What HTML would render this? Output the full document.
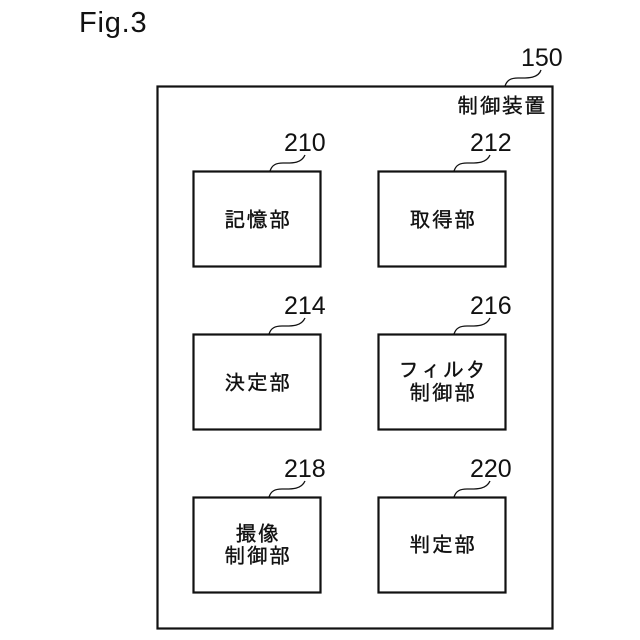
<!DOCTYPE html>
<html><head><meta charset="utf-8"><style>
html,body{margin:0;padding:0;background:#fff}
svg{display:block}
text{fill:#111;font-family:"IPAGothic","Noto Sans CJK JP",sans-serif}
.n{font-size:25px;letter-spacing:0;font-family:"Liberation Sans",sans-serif}
.j{font-size:21px;letter-spacing:1.4px;text-anchor:middle;stroke:#111;stroke-width:.35px}
rect{fill:none;stroke:#111;stroke-width:2.2}
path{fill:none;stroke:#111;stroke-width:1.3}
</style></head><body>
<svg width="640" height="640" viewBox="0 0 640 640" xmlns="http://www.w3.org/2000/svg">
<rect x="0" y="0" width="640" height="640" style="fill:#fff;stroke:none"/>
<text x="79" y="32" style="font-family:'Liberation Sans',sans-serif;font-size:29px;letter-spacing:.8px">Fig.3</text>
<rect x="157.5" y="86.5" width="395" height="542"/>
<text class="n" x="521" y="66">150</text>
<path d="M505 86C507 80 511 78 518 78C526 78 538 79 541 70"/>
<text class="j" x="502" y="113">制御装置</text>

<rect x="193.5" y="171.5" width="127" height="95"/>
<rect x="378.5" y="171.5" width="127" height="95"/>
<rect x="193.5" y="334.5" width="127" height="95"/>
<rect x="378.5" y="334.5" width="127" height="95"/>
<rect x="193.5" y="497.5" width="127" height="95"/>
<rect x="378.5" y="497.5" width="127" height="95"/>

<text class="n" x="284" y="151">210</text>
<path d="M270 171C272 165 276 163 283 163C291 163 301 164 305 155"/>
<text class="n" x="470" y="151">212</text>
<path d="M454 171C456 165 460 163 467 163C475 163 486 164 490 155"/>
<text class="n" x="284" y="314">214</text>
<path d="M269 334C271 328 275 326 282 326C290 326 301 327 305 318"/>
<text class="n" x="470" y="314">216</text>
<path d="M454 334C456 328 460 326 467 326C475 326 486 327 490 318"/>
<text class="n" x="284" y="477">218</text>
<path d="M269 497C271 491 275 489 282 489C290 489 301 490 305 481"/>
<text class="n" x="470" y="477">220</text>
<path d="M454 497C456 491 460 489 467 489C475 489 486 490 490 481"/>

<text class="j" x="258" y="227">記憶部</text>
<text class="j" x="443" y="227">取得部</text>
<text class="j" x="258" y="390">決定部</text>
<text class="j" x="443" y="377">フィルタ</text>
<text class="j" x="443" y="400">制御部</text>
<text class="j" x="258" y="541">撮像</text>
<text class="j" x="258" y="563">制御部</text>
<text class="j" x="443" y="552">判定部</text>
</svg>
</body></html>
